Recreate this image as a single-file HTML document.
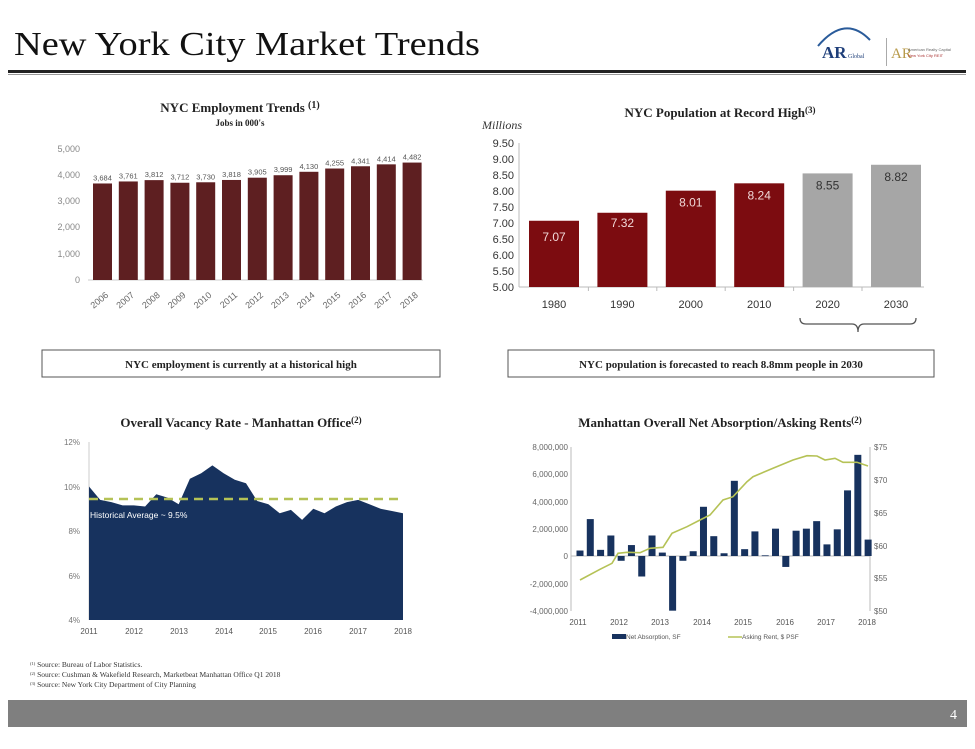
<!DOCTYPE html>
<html><head><meta charset="utf-8"><style>
body{margin:0;width:975px;height:744px;background:#fff;overflow:hidden;font-family:"Liberation Sans",sans-serif}
</style></head><body>
<svg width="975" height="744" viewBox="0 0 975 744" xmlns="http://www.w3.org/2000/svg">
<!-- Header -->
<text x="14" y="55" font-family="Liberation Serif" font-size="34" fill="#111" textLength="466" lengthAdjust="spacingAndGlyphs">New York City Market Trends</text>
<rect x="8" y="70" width="958" height="3" fill="#222"/>
<rect x="8" y="74" width="958" height="1" fill="#999"/>
<path d="M818 46 Q845 14 870 40" stroke="#2a5b9a" stroke-width="2" fill="none"/>
<text x="822" y="58" font-family="Liberation Serif" font-size="17" font-weight="bold" fill="#1f3f7a">AR</text>
<text x="848" y="58" font-family="Liberation Serif" font-size="6" fill="#1f3f7a">Global</text>
<rect x="886" y="38" width="1" height="28" fill="#aaa"/>
<text x="891" y="58" font-family="Liberation Serif" font-size="15" fill="#b89a4a">AR</text>
<text x="908" y="51" font-size="4" fill="#666">American Realty Capital</text>
<text x="908" y="57" font-size="4" fill="#a33">New York City REIT</text>

<!-- Employment chart -->
<g font-family="Liberation Serif" font-weight="bold" fill="#222" text-anchor="middle">
<text x="240" y="112" font-size="13">NYC Employment Trends <tspan font-size="10" dy="-4">(1)</tspan></text>
<text x="240" y="126" font-size="9">Jobs in 000's</text>
</g>
<g font-size="9" fill="#888" text-anchor="end">
<text x="80" y="152">5,000</text><text x="80" y="178">4,000</text><text x="80" y="204">3,000</text><text x="80" y="230">2,000</text><text x="80" y="257">1,000</text><text x="80" y="283">0</text>
</g>
<line x1="88" y1="280" x2="423" y2="280" stroke="#ccc"/>
<g fill="#5e1f21" id="emp"></g>
<g font-size="7.5" fill="#555" text-anchor="middle" id="empl"></g>
<g font-size="9" fill="#666" id="empx"></g>

<!-- Population chart -->
<text x="720" y="117" font-family="Liberation Serif" font-weight="bold" font-size="13" fill="#222" text-anchor="middle">NYC Population at Record High<tspan font-size="9" dy="-4">(3)</tspan></text>
<text x="482" y="129" font-family="Liberation Serif" font-style="italic" font-size="12" fill="#333">Millions</text>
<g font-size="11" fill="#333" text-anchor="end" id="popy"></g>
<line x1="519" y1="143" x2="519" y2="287" stroke="#bbb"/>
<line x1="519" y1="287" x2="924" y2="287" stroke="#bbb"/>
<g id="pop"></g>
<path d="M800 318 Q800 324 806 324 L852 324 Q858 324 858 332 Q858 324 864 324 L910 324 Q916 324 916 318" stroke="#555" stroke-width="1.3" fill="none"/>

<!-- boxes -->
<rect x="42" y="350" width="398" height="27" fill="#fff" stroke="#555"/>
<text x="241" y="368" text-anchor="middle" font-family="Liberation Serif" font-weight="bold" font-size="11" fill="#222">NYC employment is currently at a historical high</text>
<rect x="508" y="350" width="426" height="27" fill="#fff" stroke="#555"/>
<text x="721" y="368" text-anchor="middle" font-family="Liberation Serif" font-weight="bold" font-size="11" fill="#222">NYC population is forecasted to reach 8.8mm people in 2030</text>

<!-- Vacancy chart -->
<text x="241" y="427" font-family="Liberation Serif" font-weight="bold" font-size="13" fill="#222" text-anchor="middle">Overall Vacancy Rate - Manhattan Office<tspan font-size="9" dy="-4">(2)</tspan></text>
<g font-size="8" fill="#777" text-anchor="end">
<text x="80" y="445">12%</text><text x="80" y="490">10%</text><text x="80" y="534">8%</text><text x="80" y="579">6%</text><text x="80" y="623">4%</text>
</g>
<line x1="89" y1="442" x2="89" y2="620" stroke="#ccc"/>
<path fill="#17325e" d="M89 620 L89 486.5 L100.2 499.9 L111.4 502.1 L122.6 505.4 L133.9 505.4 L145.1 506.5 L156.3 494.3 L167.5 497.6 L178.7 504.3 L189.9 478.7 L201.2 473.2 L212.4 465.4 L223.6 473.2 L234.8 479.8 L246 483.2 L257.2 501 L268.4 504.3 L279.7 513.2 L290.9 509.9 L302.1 519.9 L313.3 508.8 L324.5 513.2 L335.8 506.5 L347 502.1 L358.2 499.9 L369.4 504.3 L380.6 508.8 L391.9 511 L403 513.2 L403 620 Z"/>
<line x1="89" y1="499" x2="403" y2="499" stroke="#b5c256" stroke-width="2.5" stroke-dasharray="9,6"/>
<text x="90" y="518" font-size="8.5" fill="#fff">Historical Average ~ 9.5%</text>
<g font-size="8" fill="#555" text-anchor="middle">
<text x="89" y="634">2011</text><text x="134" y="634">2012</text><text x="179" y="634">2013</text><text x="224" y="634">2014</text><text x="268" y="634">2015</text><text x="313" y="634">2016</text><text x="358" y="634">2017</text><text x="403" y="634">2018</text>
</g>

<!-- Absorption chart -->
<text x="720" y="427" font-family="Liberation Serif" font-weight="bold" font-size="13" fill="#222" text-anchor="middle">Manhattan Overall Net Absorption/Asking Rents<tspan font-size="9" dy="-4">(2)</tspan></text>
<g font-size="8" fill="#666" text-anchor="end">
<text x="568" y="450">8,000,000</text><text x="568" y="477">6,000,000</text><text x="568" y="505">4,000,000</text><text x="568" y="532">2,000,000</text><text x="568" y="559">0</text><text x="568" y="587">-2,000,000</text><text x="568" y="614">-4,000,000</text>
</g>
<g font-size="8" fill="#666">
<text x="874" y="450">$75</text><text x="874" y="483">$70</text><text x="874" y="516">$65</text><text x="874" y="549">$60</text><text x="874" y="581">$55</text><text x="874" y="614">$50</text>
</g>
<line x1="571" y1="447" x2="571" y2="611" stroke="#bbb"/>
<line x1="870" y1="447" x2="870" y2="611" stroke="#bbb"/>
<line x1="571" y1="556" x2="870" y2="556" stroke="#bbb"/>
<g fill="#17325e" id="abs"></g>
<polyline fill="none" stroke="#b5c256" stroke-width="1.6" points="580,580 600,569.3 612,563.3 618,553.3 627,552.3 640,552.7 650,548.3 663,547.3 672,533.3 687,526.7 700,520 710,515 723,500 733,496.7 747,481.7 753,476.7 773,468.3 793,460 807,455.7 817,456 825,460 835,458.3 843,462.3 857,462.3 868,466"/>
<g font-size="8" fill="#555" text-anchor="middle">
<text x="578" y="625">2011</text><text x="619" y="625">2012</text><text x="660" y="625">2013</text><text x="702" y="625">2014</text><text x="743" y="625">2015</text><text x="785" y="625">2016</text><text x="826" y="625">2017</text><text x="867" y="625">2018</text>
</g>
<rect x="612" y="634" width="14" height="5" fill="#17325e"/>
<text x="626" y="639" font-size="6.5" fill="#555">Net Absorption, SF</text>
<line x1="728" y1="637" x2="742" y2="637" stroke="#b5c256" stroke-width="1.5"/>
<text x="742" y="639" font-size="6.5" fill="#555">Asking Rent, $ PSF</text>

<!-- footnotes -->
<g font-family="Liberation Serif" font-size="7.5" fill="#333">
<text x="30" y="667"><tspan font-size="4.5" dy="-2">(1)</tspan><tspan dy="2"> Source: Bureau of Labor Statistics.</tspan></text>
<text x="30" y="677"><tspan font-size="4.5" dy="-2">(2)</tspan><tspan dy="2"> Source: Cushman &amp; Wakefield Research, Marketbeat Manhattan Office Q1 2018</tspan></text>
<text x="30" y="687"><tspan font-size="4.5" dy="-2">(3)</tspan><tspan dy="2"> Source: New York City Department of City Planning</tspan></text>
</g>
<rect x="8" y="700" width="959" height="27" fill="#7f7f7f"/>
<text x="950" y="719" font-family="Liberation Serif" font-size="14" fill="#fff">4</text>
</svg>
<script>
var NS="http://www.w3.org/2000/svg";
function el(p,t,a,txt){var e=document.createElementNS(NS,t);for(var k in a)e.setAttribute(k,a[k]);if(txt)e.textContent=txt;document.getElementById(p).appendChild(e);}
var ev=[3684,3761,3812,3712,3730,3818,3905,3999,4130,4255,4341,4414,4482];
ev.forEach(function(v,i){var x=93+i*25.8,h=v/5000*131,y=280-h;
el("emp","rect",{x:x,y:y,width:19,height:h});
el("empl","text",{x:x+9.5,y:y-3},v.toLocaleString("en-US"));
el("empx","text",{x:0,y:0,transform:"translate("+(x+16)+",296) rotate(-40)","text-anchor":"end"},String(2006+i));});
for(var i=0;i<=9;i++){var v=5+i*0.5;el("popy","text",{x:514,y:287-i*16+4},v.toFixed(2));}
var pv=[7.07,7.32,8.01,8.24,8.55,8.82],yrs=["1980","1990","2000","2010","2020","2030"];
pv.forEach(function(v,i){var x=529+i*68.4,y=287-(v-5)*32,red=i<4;
el("pop","rect",{x:x,y:y,width:50,height:287-y,fill:red?"#7c0c10":"#a6a6a6"});
el("pop","text",{x:x+25,y:y+(i==0?20:i==1?14:16),"font-size":12,"text-anchor":"middle",fill:red?"#f0d8d8":"#333"},v.toFixed(2));
el("pop","text",{x:x+25,y:308,"font-size":11,"text-anchor":"middle",fill:"#333"},yrs[i]);
if(i>0)el("pop","line",{x1:x-9,y1:287,x2:x-9,y2:291,stroke:"#bbb"});});
var av=[0.4,2.7,0.45,1.5,-0.35,0.8,-1.5,1.5,0.25,-4.0,-0.35,0.35,3.6,1.45,0.2,5.5,0.5,1.8,0.05,2.0,-0.8,1.85,2.0,2.55,0.85,1.95,4.8,7.4,1.2];
av.forEach(function(v,i){var x=580+i*10.29-3.5,h=Math.abs(v)*13.67;el("abs","rect",{x:x,y:v>=0?556-h:556,width:7,height:Math.max(h,0.8)});});
</script>
</body></html>
